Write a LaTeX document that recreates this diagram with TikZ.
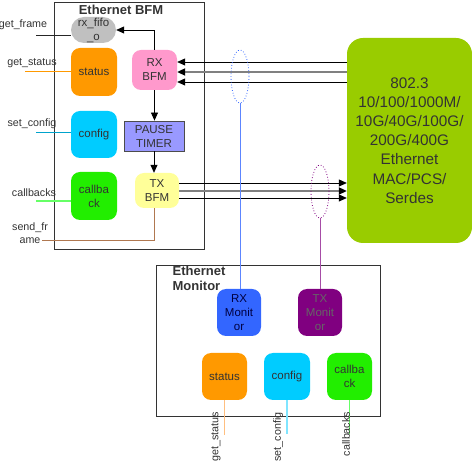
\documentclass[tikz,border=0pt]{standalone}
\usepackage{fontspec}
\setmainfont{Liberation Sans}
\usetikzlibrary{arrows.meta,shapes.geometric}
\definecolor{cOrange}{HTML}{FF9900}
\definecolor{cCyan}{HTML}{00CCFF}
\definecolor{cGreen}{HTML}{22EE00}
\definecolor{cPink}{HTML}{FF99CC}
\definecolor{cYellow}{HTML}{FFFF99}
\definecolor{cPause}{HTML}{9999FF}
\definecolor{cGray}{HTML}{C0C0C0}
\definecolor{cBlue}{HTML}{3366FF}
\definecolor{cPurple}{HTML}{800080}
\definecolor{cMac}{HTML}{99CC00}
\definecolor{cBrown}{HTML}{B07850}
\definecolor{cText}{HTML}{333333}
\begin{document}
\begin{tikzpicture}[x=1pt,y=-1pt,
  blk/.style={rounded corners=9pt, minimum width=46pt, minimum height=47pt, inner sep=0pt, align=center, font=\fontsize{11.5}{14}\selectfont, text=cText},
  lbl/.style={font=\fontsize{10.7}{13}\selectfont, inner sep=0pt, text=cText, align=center},
  ttl/.style={font=\fontsize{13}{15}\selectfont\bfseries, inner sep=0pt, text=cText},
  frame/.style={draw=black!80, line width=0.9pt},
  arr/.style={-{Triangle[length=8pt,width=7pt,color=black]}, line width=0.8pt},
  thn/.style={line width=0.8pt},
  busmid/.style={line width=2pt, draw=black!50},
]
\useasboundingbox (0,0) rectangle (472,462);

% Ethernet BFM frame
\node[frame, anchor=north west, minimum width=150pt, minimum height=247pt, inner sep=0pt] (bfm) at (54,2) {};
\node[ttl] (bfmt) at (121,10) {Ethernet BFM};

\node[blk, fill=cGray, minimum height=26pt, minimum width=45pt, rounded corners=13pt] (fifo) at (93.5,30) {rx\_fifo\\\_o};
\node[blk, fill=cOrange, minimum height=48pt] (status) at (94,72) {status};
\node[blk, fill=cCyan] (config) at (94,134.5) {config};
\node[blk, fill=cGreen, minimum height=48pt] (callb) at (94,196) {callba\\ck};
\node[blk, fill=cPink, minimum width=45pt, minimum height=40pt] (rx) at (154.5,70) {RX\\BFM};
\node[blk, fill=cPause, draw=black!70, line width=0.8pt, rounded corners=0pt, minimum width=60pt, minimum height=30pt] (pause) at (154,136) {PAUSE\\TIMER};
\node[blk, fill=cYellow, minimum width=44pt, minimum height=35pt] (tx) at (157,190.5) {TX\\BFM};

% MAC block
\node[blk, fill=cMac, rounded corners=16pt, minimum width=125pt, minimum height=205pt, font=\fontsize{15.3}{19.2}\selectfont] (mac) at (409.5,140.5) {802.3\\10/100/1000M/\\10G/40G/100G/\\200G/400G\\Ethernet\\MAC/PCS/\\Serdes};

% internal arrows
\draw[arr] (rx.north) |- (fifo.east);
\draw[arr] (rx.south) -- (rx.south |- pause.north);
\draw[arr] (pause.south) -- (pause.south |- tx.north);

% left interface lines
\coordinate (gf) at (36,35);
\coordinate (gs) at (25,71);
\coordinate (scf) at (36,132);
\coordinate (cbk) at (36,201);
\coordinate (sf) at (42,240);
\node[lbl] (gfl) at (23,25) {get\_frame};
\node[lbl] (gsl) at (32,63) {get\_status};
\node[lbl] (scl) at (32,124) {set\_config};
\node[lbl] (cbl) at (34,193) {callbacks};
\node[lbl] (sfl) at (30,233) {send\_fr\\ame};
\draw[thn, black!85] (gf) -- (gf -| fifo.west);
\draw[thn, cOrange] (gs) -- (gs -| status.west);
\draw[thn, cCyan!80!black] (scf) -- (scf -| config.west);
\draw[line width=1.2pt, green!60] (cbk) -- (cbk -| callb.west);
\draw[thn, cBrown] (tx.south -| pause.south) |- (sf);

% RX bus
\coordinate (r1) at (0,62);
\coordinate (r2) at (0,72);
\coordinate (r3) at (0,82);
\draw[arr] (mac.west |- r1) -- (rx.east |- r1);
\draw[arr, busmid] (mac.west |- r2) -- (rx.east |- r2);
\draw[arr] (mac.west |- r3) -- (rx.east |- r3);

% TX bus
\coordinate (t1) at (0,183);
\coordinate (t2) at (0,191);
\coordinate (t3) at (0,198);
\draw[arr] (tx.east |- t1) -- (mac.west |- t1);
\draw[arr, busmid] (tx.east |- t2) -- (mac.west |- t2);
\draw[arr] (tx.east |- t3) -- (mac.west |- t3);

% Ethernet Monitor frame
\node[frame, anchor=north west, minimum width=224pt, minimum height=151pt, inner sep=0pt] (mon) at (156,265) {};
\node[ttl, align=left] (mont) at (199,278.5) {Ethernet\\Monitor};

\node[blk, fill=cBlue, text=black!75!blue, minimum width=44pt] (rxm) at (239,312.5) {RX\\Monit\\or};
\node[blk, fill=cPurple, text=black!60, minimum width=44pt] (txm) at (320,312.5) {TX\\Monit\\or};
\node[blk, fill=cOrange, minimum width=45pt] (mstatus) at (224.5,376.5) {status};
\node[blk, fill=cCyan] (mconfig) at (287,376.5) {config};
\node[blk, fill=cGreen, minimum width=45pt] (mcallb) at (349.5,376.5) {callba\\ck};

% probes
\node[ellipse, draw=cBlue, dotted, line width=0.8pt, minimum width=18pt, minimum height=53pt, inner sep=0pt] (e1) at (240,76.5) {};
\node[ellipse, draw=cPurple, dotted, line width=0.8pt, minimum width=18pt, minimum height=53pt, inner sep=0pt] (e2) at (320,191.5) {};
\draw[thn, cBlue!80] (e1.south) -- (e1.south |- rxm.north);
\draw[thn, cPurple!70] (e2.south) -- (e2.south |- txm.north);

% monitor outputs
\draw[line width=1.2pt, orange!50] (mstatus.south) -- ++(0,35) coordinate (mgs);
\draw[line width=1.2pt, cCyan!50] (mconfig.south) -- ++(0,34) coordinate (mscf);
\draw[line width=1.2pt, green!60] (mcallb.south) -- ++(0,34) coordinate (mcbk);
\node[lbl, rotate=90] (mgsl) at (216,437) {get\_status};
\node[lbl, rotate=90] (mscl) at (278,437) {set\_config};
\node[lbl, rotate=90] (mcbl) at (346,434) {callbacks};
\end{tikzpicture}
\end{document}
